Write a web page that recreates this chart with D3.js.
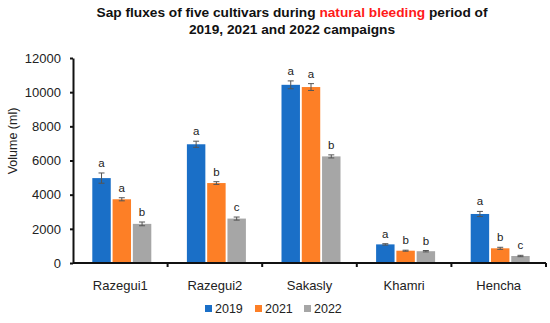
<!DOCTYPE html>
<html>
<head>
<meta charset="utf-8">
<script src="https://cdn.jsdelivr.net/npm/d3@7"></script>
<style>
  body { margin: 0; background: #fff; }
  svg { display: block; font-family: Arial, "Liberation Sans", sans-serif; }
</style>
</head>
<body>
<svg id="chart" width="550" height="323"></svg>
<script>
const cultivars = ['Razegui1', 'Razegui2', 'Sakasly', 'Khamri', 'Hencha'];
const years = ['2019', '2021', '2022'];
const colors = ['#1a6fc7', '#fd7f26', '#a6a6a6'];

// mean volume (ml) per year, one entry per cultivar
const values2019 = [4970, 6950, 10430, 1090, 2870];
const values2021 = [3730, 4680, 10300, 720, 860];
const values2022 = [2290, 2600, 6240, 690, 410];

// standard errors
const errors2019 = [300, 180, 230, 40, 150];
const errors2021 = [90, 80, 200, 30, 60];
const errors2022 = [110, 90, 90, 40, 40];

// significance letters
const letters2019 = ['a', 'a', 'a', 'a', 'a'];
const letters2021 = ['a', 'b', 'a', 'b', 'b'];
const letters2022 = ['b', 'c', 'b', 'b', 'c'];

const yTicks = [0, 2000, 4000, 6000, 8000, 10000, 12000];

const series = [
    { year: years[0], values: values2019, errors: errors2019, letters: letters2019 },
    { year: years[1], values: values2021, errors: errors2021, letters: letters2021 },
    { year: years[2], values: values2022, errors: errors2022, letters: letters2022 }
];

const svg = d3.select('#chart');
const margin = { left: 73, right: 4, top: 58, bottom: 60 };
const width = 550 - margin.left - margin.right;
const height = 323 - margin.top - margin.bottom;

// title, with the red part kept as a tspan
const title = svg.append('text')
    .attr('x', 292)
    .attr('y', 17)
    .attr('text-anchor', 'middle')
    .attr('font-weight', 'bold')
    .attr('font-size', 13.7)
    .attr('fill', '#111');
title.append('tspan').text('Sap fluxes of five cultivars during ');
title.append('tspan').attr('fill', '#ff1a1a').text('natural bleeding');
title.append('tspan').text(' period of');
svg.append('text')
    .attr('x', 292)
    .attr('y', 34)
    .attr('text-anchor', 'middle')
    .attr('font-weight', 'bold')
    .attr('font-size', 13.7)
    .attr('fill', '#111')
    .text('2019, 2021 and 2022 campaigns');

const chart = svg.append('g').attr('transform', `translate(${margin.left},${margin.top})`);

const x = d3.scaleBand().domain(cultivars).range([0, width]);
const xInner = d3.scaleBand().domain(years).range([0, 59]).paddingInner(0.09);
const y = d3.scaleLinear().domain([0, 12000]).range([height, 0]);

// bars
series.forEach((s, si) => {
    const g = chart.append('g');
    const offset = (d, i) => x(cultivars[i]) + (x.bandwidth() - 59) / 2 + 1.5 + xInner(s.year);

    g.selectAll('rect')
        .data(s.values)
        .join('rect')
        .attr('x', (d, i) => offset(d, i))
        .attr('y', (d) => y(d))
        .attr('width', xInner.bandwidth())
        .attr('height', (d) => height - y(d))
        .attr('fill', colors[si]);

    // error bars
    const bw = xInner.bandwidth();
    s.values.forEach((v, i) => {
        const cx = offset(v, i) + bw / 2;
        const e = s.errors[i];
        const eg = g.append('g').attr('stroke', '#555').attr('stroke-width', 1);
        eg.append('line').attr('x1', cx).attr('x2', cx).attr('y1', y(v + e)).attr('y2', y(v - e));
        eg.append('line').attr('x1', cx - 3).attr('x2', cx + 3).attr('y1', y(v + e)).attr('y2', y(v + e));
        eg.append('line').attr('x1', cx - 3).attr('x2', cx + 3).attr('y1', y(v - e)).attr('y2', y(v - e));

        g.append('text')
            .attr('x', cx)
            .attr('y', y(v + e) - 6)
            .attr('text-anchor', 'middle')
            .attr('font-size', 11.5)
            .attr('fill', '#222')
            .text(s.letters[i]);
    });
});

// y axis
const yAxis = chart.append('g')
    .call(d3.axisLeft(y).tickValues(yTicks).tickFormat(d3.format('d')).tickSize(3).tickSizeOuter(0));
yAxis.select('.domain').attr('stroke', '#111').attr('stroke-width', 2);
yAxis.selectAll('.tick line').attr('stroke', '#111').attr('stroke-width', 2);
yAxis.selectAll('.tick text')
    .attr('x', -12)
    .attr('font-size', 13)
    .attr('font-family', 'Arial, "Liberation Sans", sans-serif')
    .attr('fill', '#222');

// x axis with ticks between categories
const xAxis = chart.append('g').attr('transform', `translate(0,${height})`);
xAxis.append('line')
    .attr('x1', 0).attr('x2', width)
    .attr('stroke', '#111').attr('stroke-width', 2);
xAxis.selectAll('.sep')
    .data(cultivars)
    .join('line')
    .attr('x1', (d) => x(d) + x.bandwidth())
    .attr('x2', (d) => x(d) + x.bandwidth())
    .attr('y1', 0).attr('y2', 4)
    .attr('stroke', '#111').attr('stroke-width', 2);
xAxis.selectAll('.cat')
    .data(cultivars)
    .join('text')
    .attr('x', (d) => x(d) + x.bandwidth() / 2)
    .attr('y', 27)
    .attr('text-anchor', 'middle')
    .attr('font-size', 13)
    .attr('fill', '#222')
    .text((d) => d);

// y label
svg.append('text')
    .attr('transform', 'translate(17,141) rotate(-90)')
    .attr('text-anchor', 'middle')
    .attr('font-size', 12.5)
    .attr('fill', '#222')
    .text('Volume (ml)');

// legend
const legend = svg.append('g').attr('transform', 'translate(205,313)');
const legendX = [0, 50, 99];
years.forEach((yr, i) => {
    legend.append('rect')
        .attr('x', legendX[i]).attr('y', -8)
        .attr('width', 7).attr('height', 7)
        .attr('fill', colors[i]);
    legend.append('text')
        .attr('x', legendX[i] + 10).attr('y', 0)
        .attr('font-size', 12.5)
        .attr('fill', '#222')
        .text(yr);
});
</script>
</body>
</html>
